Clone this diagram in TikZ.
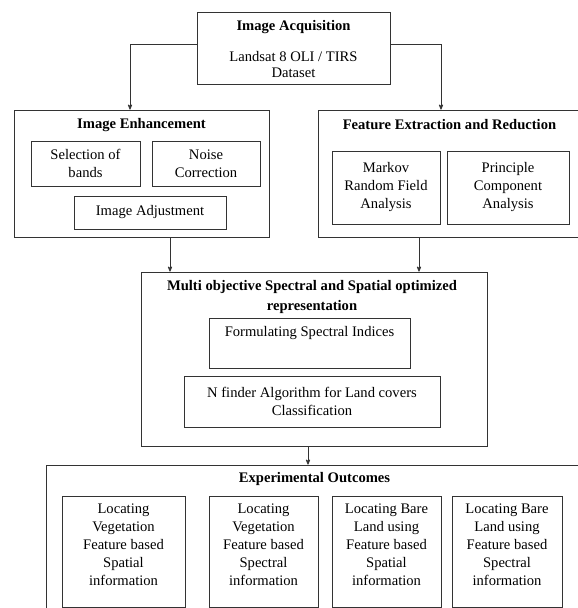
\documentclass[tikz,border=0pt]{standalone}
\usepackage{fontspec}
\setmainfont{Liberation Serif}
\usetikzlibrary{arrows, fit}

\begin{document}
\fontsize{14.6}{18}\selectfont
\begin{tikzpicture}[x=1pt, y=-1pt, >=stealth',
  box/.style={draw=black!80, line width=0.8pt, inner sep=0pt},
  subbox/.style={box, align=center},
  head/.style={font=\bfseries, align=center},
  outtext/.style={anchor=north, align=center, inner sep=0pt},
  flow/.style={->, draw=black!80, line width=0.8pt}]
  \useasboundingbox (0,0) rectangle (578,608);
  \clip (0,0) rectangle (578,608);
  % acquisition
  \node[box, fit={(197,12) (390,84)}] (acq) {};
  \node[head] (acqT) at (293.5,27) {Image Acquisition};
  \node[align=center, inner sep=0pt] (acqD) at (293.5,65) {Landsat 8 OLI / TIRS\\[-2pt]Dataset};
  % enhancement
  \node[box, fit={(14,110) (269,237)}] (enh) {};
  \node[head] (enhT) at (141.5,125) {Image Enhancement};
  \node[subbox, minimum width=109, minimum height=45] (bands) at (85.5,163.5) {Selection of\\bands};
  \node[subbox, minimum width=108, minimum height=45] (noise) at (206,163.5) {Noise\\Correction};
  \node[subbox, minimum width=152, minimum height=33] (adjust) at (150,212.5) {Image Adjustment};
  % feature extraction
  \node[box, fit={(318,110) (581,237)}] (feat) {};
  \node[head] (featT) at (449.5,125) {Feature Extraction and Reduction};
  \node[subbox, minimum width=108, minimum height=73] (mrf) at (386,187.5) {Markov\\Random Field\\Analysis};
  \node[subbox, minimum width=122, minimum height=73] (pca) at (508,187.5) {Principle\\Component\\Analysis};
  % multi objective representation
  \node[box, fit={(141,272) (487,446)}] (multi) {};
  \node[head] (multiT) at (312,297) {Multi objective Spectral and Spatial optimized\\[2pt]representation};
  \node[box, fit={(209,318) (410,368)}] (indices) {};
  \node (indicesT) at (309.5,333) {Formulating Spectral Indices};
  \node[subbox, minimum width=256, minimum height=51] (nfinder) at (312,401.5) {N finder Algorithm for Land covers\\Classification};
  % outcomes
  \node[box, fit={(46,465) (583,640)}] (out) {};
  \node[head] (outT) at (314.5,479) {Experimental Outcomes};
  \node[box, fit={(62,496) (185,607)}] (vegSpat) {};
  \node[outtext] (vegSpatT) at (123.5,504) {Locating\\Vegetation\\Feature based\\Spatial\\information};
  \node[box, fit={(209,496) (318,607)}] (vegSpec) {};
  \node[outtext] (vegSpecT) at (263.5,504) {Locating\\Vegetation\\Feature based\\Spectral\\information};
  \node[box, fit={(332,496) (441,607)}] (bareSpat) {};
  \node[outtext] (bareSpatT) at (386.5,504) {Locating Bare\\Land using\\Feature based\\Spatial\\information};
  \node[box, fit={(452,496) (562,607)}] (bareSpec) {};
  \node[outtext] (bareSpecT) at (507,504) {Locating Bare\\Land using\\Feature based\\Spectral\\information};
  % connectors
  \draw[flow] ([yshift=4]acq.west) -| ([xshift=-11.5]enh.north);
  \draw[flow] ([yshift=4]acq.east) -| ([xshift=-8.5]feat.north);
  \draw[flow] ([xshift=28.5]enh.south) -- ([xshift=28.5]enh.south |- multi.north);
  \draw[flow] ([xshift=-30.5]feat.south) -- ([xshift=-30.5]feat.south |- multi.north);
  \draw[flow] ([xshift=-6]multi.south) -- ([xshift=-6]multi.south |- out.north);
\end{tikzpicture}
\end{document}
